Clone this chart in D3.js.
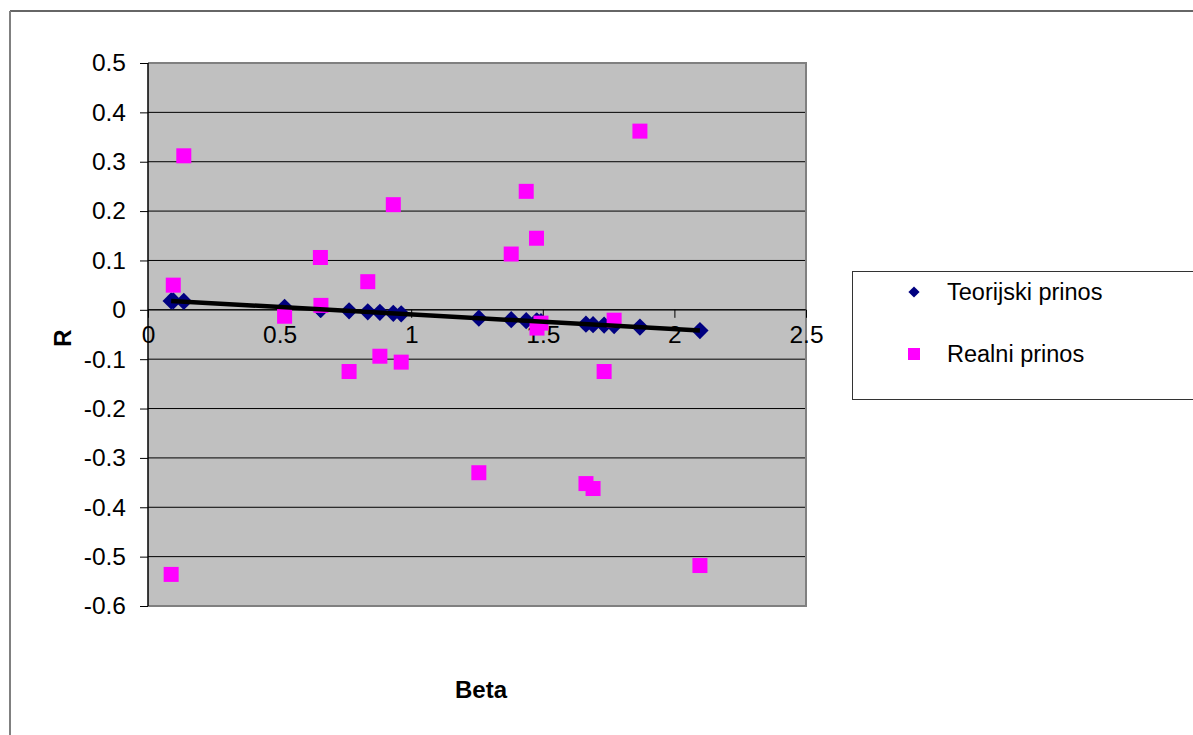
<!DOCTYPE html>
<html>
<head>
<meta charset="utf-8">
<script src="https://cdn.jsdelivr.net/npm/d3@7"></script>
<style>
  body { margin: 0; background: #fff; }
  text { font-family: "Liberation Sans", Arial, sans-serif; }
</style>
</head>
<body>
<svg id="chart" width="1193" height="735"></svg>
<script>
// beta of each stock (shared x values)
const betas = [0.088, 0.096, 0.136, 0.519, 0.655, 0.657, 0.764, 0.835, 0.881, 0.932, 0.962,
  1.257, 1.380, 1.437, 1.476, 1.478, 1.493, 1.664, 1.691, 1.733, 1.771, 1.869, 2.097];
// Teorijski prinos (theoretical return)
const teorijski = [0.018, 0.018, 0.017, 0.005, 0.001, 0.001, -0.002, -0.004, -0.005, -0.007, -0.008,
  -0.017, -0.020, -0.022, -0.023, -0.023, -0.024, -0.029, -0.030, -0.031, -0.032, -0.035, -0.042];
// Realni prinos (real return)
const realni = [-0.536, 0.050, 0.312, -0.013, 0.106, 0.009, -0.125, 0.057, -0.094, 0.213, -0.106,
  -0.330, 0.113, 0.240, 0.145, -0.037, -0.027, -0.352, -0.362, -0.125, -0.021, 0.362, -0.518];
const xTicks = [0, 0.5, 1, 1.5, 2, 2.5];
const yTicks = [0.5, 0.4, 0.3, 0.2, 0.1, 0, -0.1, -0.2, -0.3, -0.4, -0.5, -0.6];
const seriesNames = ["Teorijski prinos", "Realni prinos"];

const svg = d3.select("#chart");
const plot = {left: 148, top: 63, right: 806, bottom: 606};

const x = d3.scaleLinear().domain([0, 2.5]).range([plot.left, plot.right]);
const y = d3.scaleLinear().domain([-0.6, 0.5]).range([plot.bottom, plot.top]);

// chart area frame
svg.append("line").attr("x1", 10).attr("y1", 11).attr("x2", 1193).attr("y2", 11)
  .attr("stroke", "#333").attr("stroke-width", 1.5);
svg.append("line").attr("x1", 10).attr("y1", 11).attr("x2", 10).attr("y2", 735)
  .attr("stroke", "#808080").attr("stroke-width", 2);

// plot background
svg.append("rect")
  .attr("x", plot.left).attr("y", plot.top)
  .attr("width", plot.right - plot.left).attr("height", plot.bottom - plot.top)
  .attr("fill", "#c0c0c0");

// horizontal gridlines
svg.append("g")
  .selectAll("line")
  .data(yTicks.filter(d => d < 0.5 && d > -0.6))
  .join("line")
  .attr("x1", plot.left).attr("x2", plot.right)
  .attr("y1", d => y(d)).attr("y2", d => y(d))
  .attr("stroke", "#000").attr("stroke-width", 1);

// plot border (top, right, bottom)
svg.append("path")
  .attr("d", `M${plot.left},${plot.top}H${plot.right}V${plot.bottom}H${plot.left}`)
  .attr("fill", "none").attr("stroke", "#808080").attr("stroke-width", 2);

// y axis
const yAxis = d3.axisLeft(y).tickValues(yTicks).tickSize(8).tickPadding(14)
  .tickFormat(d => String(+d.toFixed(1)));
const gy = svg.append("g").attr("transform", `translate(${plot.left},0)`).call(yAxis);
gy.select(".domain").attr("stroke", "#000").attr("stroke-width", 1.5)
  .attr("d", `M0,${plot.top}V${plot.bottom}`);
gy.selectAll(".tick line").attr("stroke", "#000");
gy.selectAll("text").attr("font-size", 24.5).attr("fill", "#000")
  .attr("font-family", "'Liberation Sans', Arial, sans-serif");

// x axis crossing at R = 0
const xAxis = d3.axisBottom(x).tickValues(xTicks).tickSize(8).tickPadding(8)
  .tickFormat(d => String(d));
const gx = svg.append("g").attr("transform", `translate(0,${y(0)})`).call(xAxis);
gx.select(".domain").attr("stroke", "#000").attr("stroke-width", 1)
  .attr("d", `M${plot.left},0H${plot.right}`);
gx.selectAll(".tick line").attr("stroke", "#000");
gx.selectAll("text").attr("font-size", 24.5).attr("fill", "#000")
  .attr("font-family", "'Liberation Sans', Arial, sans-serif");

// axis titles
svg.append("text")
  .attr("transform", `translate(62,338) rotate(-90)`)
  .attr("text-anchor", "middle").attr("dominant-baseline", "central")
  .attr("font-size", 24).attr("font-weight", "bold").text("R");
svg.append("text")
  .attr("x", 481).attr("y", 689)
  .attr("text-anchor", "middle").attr("dominant-baseline", "central")
  .attr("font-size", 24).attr("font-weight", "bold").text("Beta");

const theoPts = betas.map((b, i) => ({b: b, r: teorijski[i]}));
const realPts = betas.map((b, i) => ({b: b, r: realni[i]}));

const diamond = d3.symbol().type(d3.symbolDiamond2).size(190);

// theoretical points
svg.append("g")
  .selectAll("path")
  .data(theoPts)
  .join("path")
  .attr("transform", d => `translate(${x(d.b)},${y(d.r)})`)
  .attr("d", diamond)
  .attr("fill", "#000080");

// real points
const sq = 15;
svg.append("g")
  .selectAll("rect")
  .data(realPts)
  .join("rect")
  .attr("x", d => x(d.b) - sq / 2).attr("y", d => y(d.r) - sq / 2)
  .attr("width", sq).attr("height", sq)
  .attr("fill", "#ff00ff");

// trend line through theoretical points
const trend = [theoPts[0], theoPts[theoPts.length - 1]];
svg.append("path")
  .datum(trend)
  .attr("d", d3.line().x(d => x(d.b)).y(d => y(d.r)))
  .attr("fill", "none").attr("stroke", "#000").attr("stroke-width", 4.5);

// legend
const lg = svg.append("g");
lg.append("rect").attr("x", 852.5).attr("y", 271.5).attr("width", 345).attr("height", 128)
  .attr("fill", "#fff").attr("stroke", "#333").attr("stroke-width", 1);
const items = lg.selectAll("g.item").data(seriesNames).join("g")
  .attr("class", "item")
  .attr("transform", (d, i) => `translate(914,${292 + i * 62})`);
items.filter((d, i) => i === 0).append("path")
  .attr("d", d3.symbol().type(d3.symbolDiamond2).size(80)).attr("fill", "#000080");
items.filter((d, i) => i === 1).append("rect")
  .attr("x", -6).attr("y", -6).attr("width", 12).attr("height", 12).attr("fill", "#ff00ff");
items.append("text").attr("x", 33).attr("dominant-baseline", "central")
  .attr("font-size", 23.5).attr("fill", "#000").text(d => d);
</script>
</body>
</html>
